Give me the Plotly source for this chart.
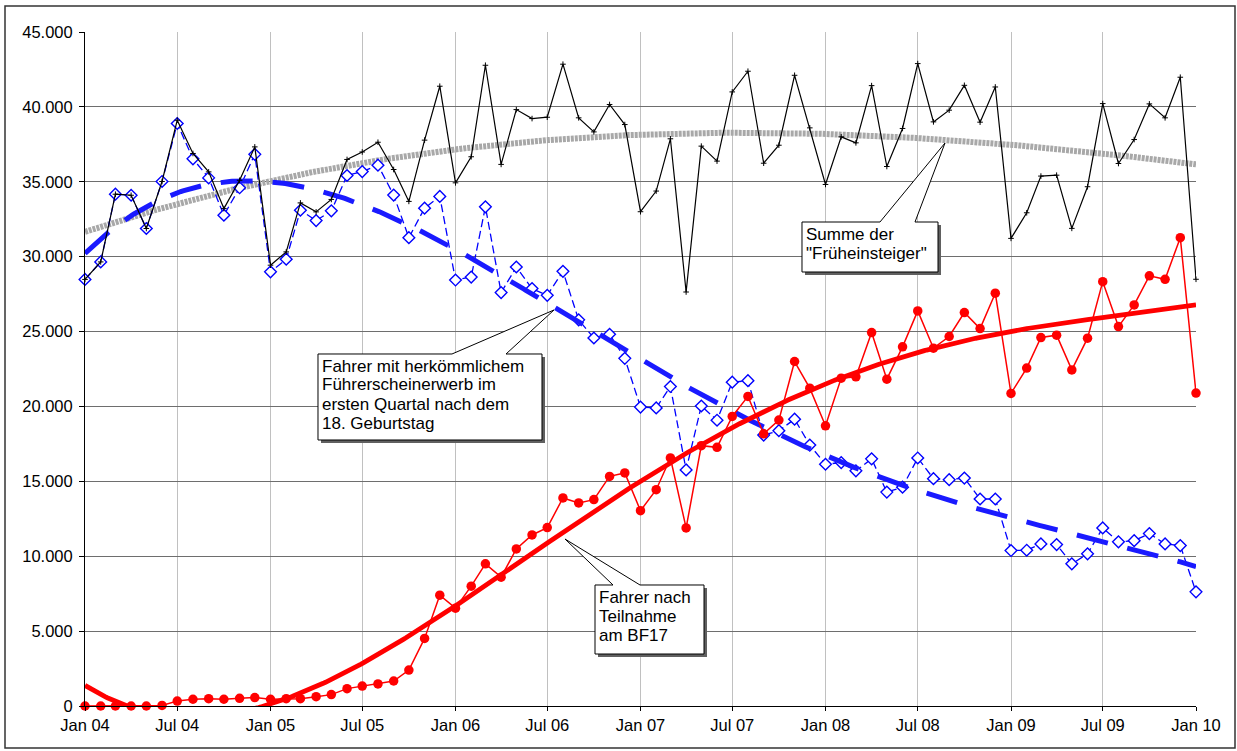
import numpy as np
import pandas as pd
import plotly.graph_objects as go

# Monthly values Jan 2004 .. Jan 2010
months = pd.date_range("2004-01-01", "2010-01-01", freq="MS")

bf17 = [
    0, 0, 0, 0, 0, 40, 330, 450, 490, 450, 510, 560,
    450, 490, 490, 620, 760, 1160, 1330, 1470, 1670, 2400, 4510, 7400,
    6530, 8000, 9490, 8600, 10490, 11420, 11910, 13890, 13560, 13780, 15330, 15560,
    13040, 14440, 16560, 11890, 17380, 17270, 19330, 20670, 18170, 19090, 23000, 21220,
    18710, 21890, 21980, 24930, 21820, 23980, 26380, 23890, 24670, 26270, 25200, 27560,
    20870, 22560, 24600, 24760, 22440, 24560, 28330, 25330, 26780, 28720, 28490, 31270,
    20890,
]

klassisch = [
    28480, 29650, 34170, 34100, 31880, 35020, 38890, 36530, 35260, 32770, 34600, 36830,
    28990, 29830, 33100, 32410, 33060, 35420, 35680, 36110, 34110, 31270, 33240, 34020,
    28440, 28640, 33330, 27600, 29310, 27870, 27420, 29020, 25780, 24570, 24820, 23210,
    19960, 19900, 21330, 15760, 20030, 19080, 21620, 21720, 18090, 18380, 19150, 17420,
    16140, 16250, 15700, 16500, 14280, 14610, 16560, 15180, 15110, 15220, 13820, 13820,
    10380, 10400, 10820, 10780, 9490, 10160, 11890, 10960, 11040, 11510, 10820, 10710,
    7620,
]

summe = [
    28480, 29650, 34170, 34100, 31880, 35020, 39110, 36890, 35660, 33210, 35100, 37330,
    29430, 30320, 33590, 32990, 33820, 36490, 36990, 37640, 35820, 33690, 37780, 41380,
    34930, 36670, 42780, 36160, 39820, 39220, 39310, 42850, 39270, 38330, 40160, 38820,
    33000, 34380, 37870, 27640, 37380, 36380, 41000, 42380, 36240, 37440, 42110, 38600,
    34820, 38000, 37600, 41420, 36020, 38560, 42890, 39000, 39780, 41440, 38980, 41330,
    31220, 32930, 35380, 35440, 31890, 34670, 40220, 36220, 37820, 40200, 39270, 41980,
    28490,
]

W, H = 1237, 751
L, R, T, B = 85, 41, 32, 45
PW, PH = W - L - R, H - T - B
FONT = "Arial, Liberation Sans, sans-serif"
FS = 16.5
FS_BOX = 17


def px(x):
    return (x - L) / PW


def py(y):
    return (H - B - y) / PH


# polynomial trend lines over time (years since start)
t = np.array([(d - months[0]).days for d in months]) / 365.25
ct = np.linspace(0, t[-1], 500)
cdates = months[0] + pd.to_timedelta(ct * 365.25, unit="D")


def trend(vals, deg):
    return np.polyval(np.polyfit(t, np.array(vals, float), deg), ct)


fig = go.Figure()

fig.add_trace(go.Scatter(
    x=cdates, y=trend(summe, 3), mode="lines", hoverinfo="skip",
    line=dict(color="#a8a8a8", width=6, dash="3px,1px"),
))
fig.add_trace(go.Scatter(
    x=months, y=klassisch, mode="lines+markers", cliponaxis=False,
    line=dict(color="#0000ff", width=1.3, dash="8px,4px"),
    marker=dict(symbol="diamond", size=9, color="white",
                line=dict(color="#0000ff", width=1.4)),
))
fig.add_trace(go.Scatter(
    x=cdates, y=trend(klassisch, 4), mode="lines", hoverinfo="skip",
    line=dict(color="#1a1aff", width=5, dash="32px,20px"),
))
fig.add_trace(go.Scatter(
    x=months, y=bf17, mode="lines+markers", cliponaxis=False,
    line=dict(color="#ff0000", width=1.5),
    marker=dict(symbol="circle", size=9.5, color="#ff0000"),
))
fig.add_trace(go.Scatter(
    x=cdates, y=trend(bf17, 4), mode="lines", hoverinfo="skip",
    line=dict(color="#ff0000", width=4.8),
))
fig.add_trace(go.Scatter(
    x=months, y=summe, mode="lines+markers", cliponaxis=False,
    line=dict(color="black", width=1.2),
    marker=dict(symbol="cross-thin", size=4, line=dict(color="black", width=1)),
))


def callout(x0, y0, x1, y1, b0, b1, tip):
    pts = [(x0, y0), (b0, y0), tip, (b1, y0), (x1, y0), (x1, y1), (x0, y1)]
    return "M " + " L ".join(f"{px(a):.5f},{py(b):.5f}" for a, b in pts) + " Z"


boxes = [
    (802, 222, 938, 272, 880, 915, (945, 143), ["Summe der", '"Früheinsteiger"']),
    (318, 354, 542, 440, 452, 506, (554, 310),
     ["Fahrer mit herkömmlichem", "Führerscheinerwerb im",
      "ersten Quartal nach dem", "18. Geburtstag"]),
    (595, 585, 704, 654, 613, 640, (565, 539), ["Fahrer nach", "Teilnahme", "am BF17"]),
]

shapes = []
annotations = []
for x0, y0, x1, y1, b0, b1, tip, lines in boxes:
    shapes.append(dict(type="rect", xref="paper", yref="paper",
                       x0=px(x0 + 3), x1=px(x1 + 3), y0=py(y0 + 3), y1=py(y1 + 3),
                       fillcolor="#606060", line=dict(width=0), layer="above"))
    shapes.append(dict(type="path", xref="paper", yref="paper",
                       path=callout(x0, y0, x1, y1, b0, b1, tip),
                       fillcolor="white", line=dict(color="black", width=1), layer="above"))
    for k, line in enumerate(lines):
        annotations.append(dict(xref="paper", yref="paper", x=px(x0 + 2), y=py(y0 + 12 + 19 * k),
                                xanchor="left", yanchor="middle", align="left", showarrow=False,
                                text=line, font=dict(family=FONT, size=FS_BOX, color="black")))

# outer chart frame
shapes.append(dict(type="rect", xref="paper", yref="paper",
                   x0=px(5), x1=px(1235), y0=py(6), y1=py(748),
                   line=dict(color="#333333", width=1.5), layer="above"))

fig.update_layout(
    width=W, height=H,
    margin=dict(l=L, r=R, t=T, b=B),
    paper_bgcolor="white", plot_bgcolor="white",
    showlegend=False,
    separators=",.",
    font=dict(family=FONT, size=FS, color="black"),
    shapes=shapes, annotations=annotations,
)
fig.update_xaxes(
    type="date", range=[months[0], months[-1]],
    tick0="2004-01-01", dtick="M6", tickformat="%b %y",
    showgrid=True, gridcolor="#c0c0c0", gridwidth=1,
    showline=True, linecolor="black", linewidth=1,
    ticks="outside", ticklen=4, tickcolor="black",
    zeroline=False,
)
fig.update_yaxes(
    range=[0, 45000], dtick=5000, tickformat=",d",
    showgrid=True, gridcolor="#6e6e6e", gridwidth=1,
    showline=True, linecolor="black", linewidth=1,
    ticks="outside", ticklen=5, tickcolor="black",
    ticklabelstandoff=3,
    zeroline=False,
)

fig.write_html("out.html")
